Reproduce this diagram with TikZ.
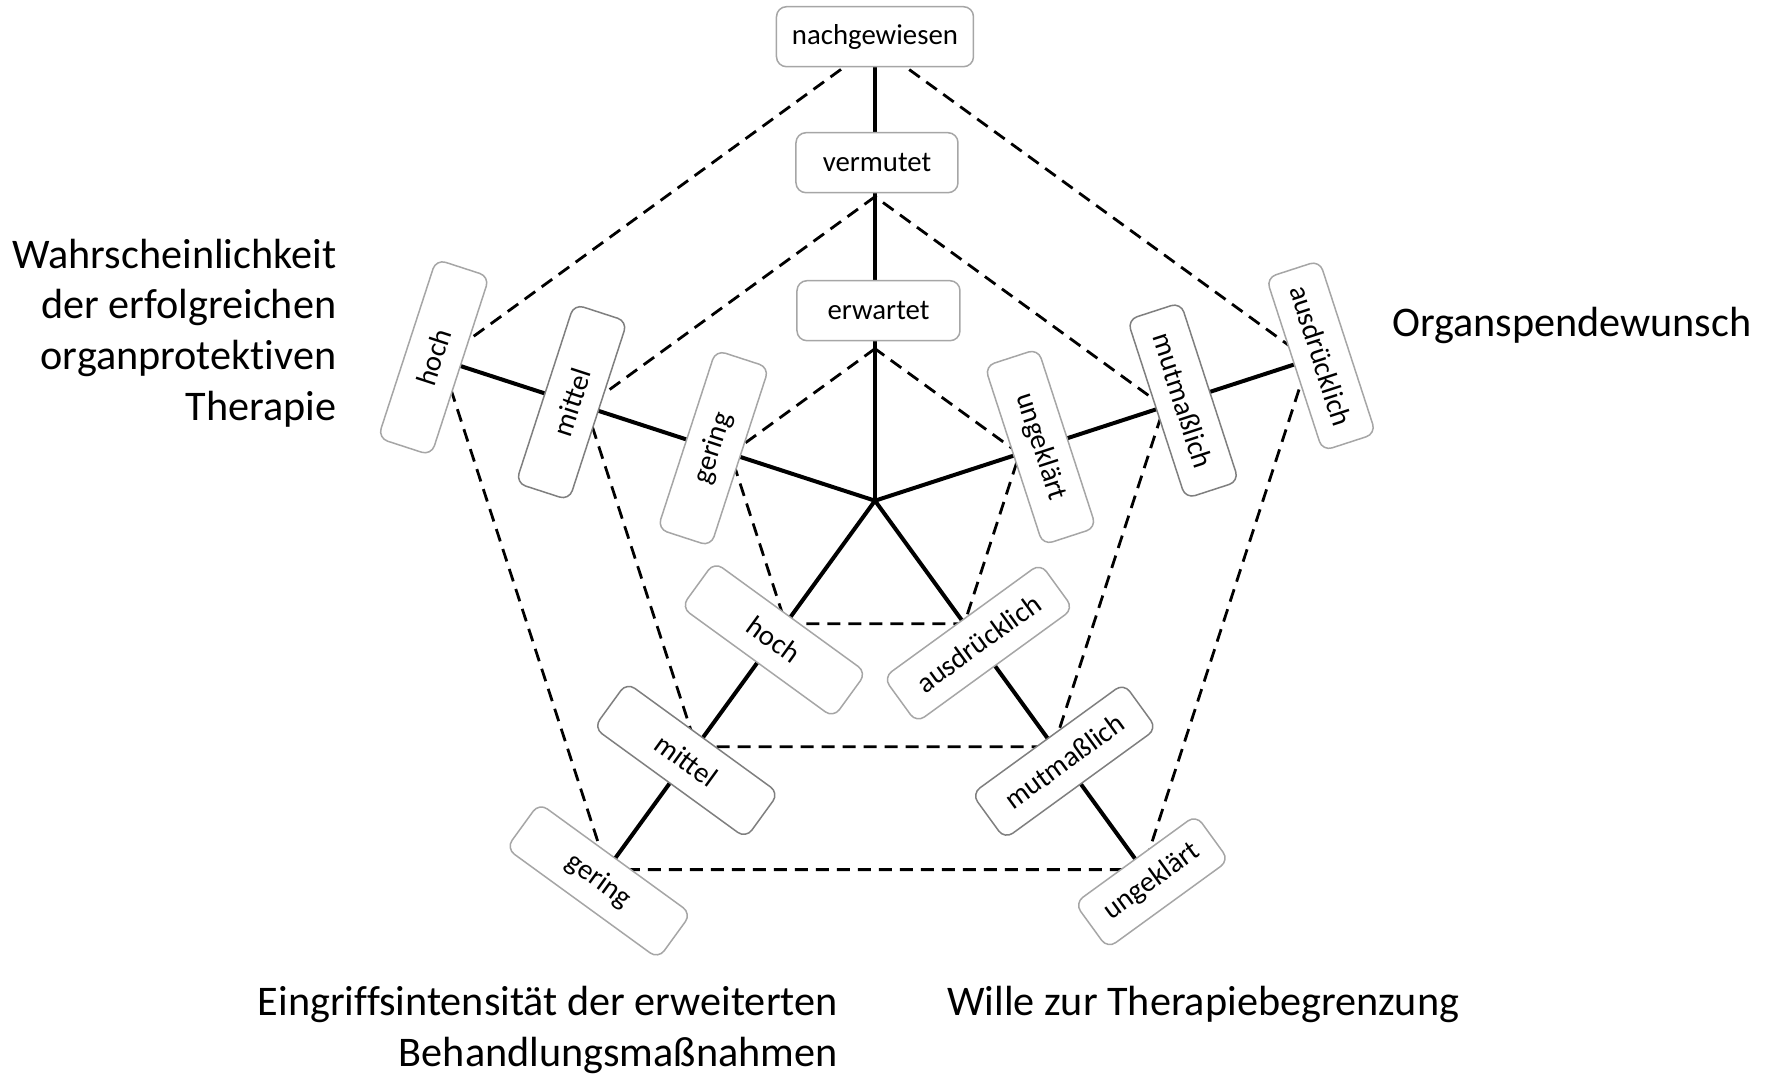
\documentclass[tikz,border=0pt]{standalone}
\usepackage{fontspec}
\setmainfont[Ligatures={NoCommon}]{Carlito}
\definecolor{rahmen}{HTML}{A6A6A6}
\definecolor{rahmenmitte}{HTML}{7F7F7F}
\tikzset{
	stufe/.style={draw=rahmen, fill=white, line width=0.75pt, rounded corners=5pt, minimum width=94pt, minimum height=28pt, inner sep=0pt, font=\fontsize{14.4}{17}\selectfont},
	stufemitte/.style={stufe, draw=rahmenmitte},
	achse/.style={line width=2pt},
	ring/.style={line width=1.4pt, dash pattern=on 6.5pt off 4pt},
	titel/.style={inner sep=0pt, font=\fontsize{21.1}{25.3}\selectfont}
}
\begin{document}
\begin{tikzpicture}[x=0.5pt, y=0.5pt]
		\useasboundingbox (-875,-577.3) rectangle (899,500.7);
		\coordinate (c) at (0,0);
		\coordinate (top1) at (90:152);  \coordinate (top2) at (90:304);  \coordinate (top3) at (90:456);
		\coordinate (wahr1) at (162:152); \coordinate (wahr2) at (162:304); \coordinate (wahr3) at (162:456);
		\coordinate (organ1) at (18:152); \coordinate (organ2) at (18:304); \coordinate (organ3) at (18:456);
		\coordinate (eingr1) at (234:152); \coordinate (eingr2) at (234:304); \coordinate (eingr3) at (234:456);
		\coordinate (wille1) at (306:152); \coordinate (wille2) at (306:304); \coordinate (wille3) at (306:456);
		% achsen
		\draw[achse] (c) -- (top3);
		\draw[achse] (c) -- (wahr3);
		\draw[achse] (c) -- (organ3);
		\draw[achse] (c) -- (eingr3);
		\draw[achse] (c) -- (wille3);
		% ringe
		\draw[ring] (top1) -- (wahr1) -- (eingr1) -- (wille1) -- (organ1) -- cycle;
		\draw[ring] (top2) -- (wahr2) -- (eingr2) -- (wille2) -- (organ2) -- cycle;
		\draw[ring] (top3) -- (wahr3) -- (eingr3) -- (wille3) -- (organ3) -- cycle;
		% stufen
		\node[stufe, minimum width=98.5pt, minimum height=30pt] (nachgew) at (0,464) {nachgewiesen};
		\node[stufe, minimum width=81pt, minimum height=30pt] (vermutet) at (2,338) {vermutet};
		\node[stufe, minimum width=81.5pt, minimum height=30pt] (erwartet) at (3.5,190) {erwartet};
		\node[stufe, rotate=72] (wahrHoch) at (162:464) {hoch};
		\node[stufemitte, rotate=72] (wahrMittel) at (162:319) {mittel};
		\node[stufe, rotate=72] (wahrGering) at (162:170) {gering};
		\node[stufe, rotate=-72] (organUng) at (18:174) {ungeklärt};
		\node[stufemitte, rotate=-72] (organMut) at (18:324) {mutmaßlich};
		\node[stufe, rotate=-72, minimum width=91pt] (organAus) at (18:469) {ausdrücklich};
		\node[stufe, rotate=-36] (eingrHoch) at (234:172) {hoch};
		\node[stufemitte, rotate=-36] (eingrMittel) at (234:321) {mittel};
		\node[stufe, rotate=-36] (eingrGering) at (234:470) {gering};
		\node[stufe, rotate=36, minimum width=97pt] (willeAus) at (306:176) {ausdrücklich};
		\node[stufemitte, rotate=36] (willeMut) at (306:322) {mutmaßlich};
		\node[stufe, rotate=36, minimum width=75pt] (willeUng) at (306:471) {ungeklärt};
		% dimensionen
		\node[titel, align=right, anchor=base east] (wahrTitel) at (-538.3,80.7) {Wahrscheinlichkeit\\der erfolgreichen\\organprotektiven\\Therapie};
		\node[titel, anchor=base west] (organTitel) at (516.7,164) {Organspendewunsch};
		\node[titel, align=right, anchor=base east] (eingrTitel) at (-37,-565.8) {Eingriffsintensität der erweiterten\\Behandlungsmaßnahmen};
		\node[titel, anchor=base west] (willeTitel) at (72,-514.3) {Wille zur Therapiebegrenzung};
\end{tikzpicture}
\end{document}
